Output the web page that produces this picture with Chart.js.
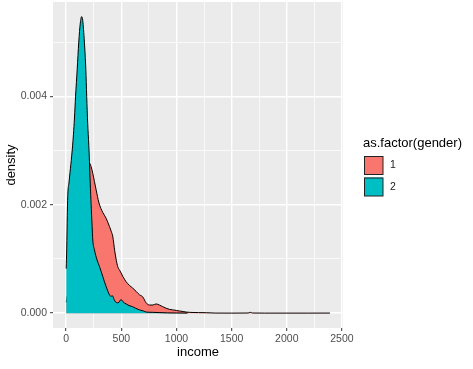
<!DOCTYPE html>
<html>
<head>
<meta charset="utf-8">
<script src="https://cdn.jsdelivr.net/npm/chart.js@4.4.0/dist/chart.umd.min.js"></script>
<style>
  html, body { margin: 0; padding: 0; background: #ffffff; }
  #wrap { width: 473px; height: 369px; }
</style>
</head>
<body>
<div id="wrap"><canvas id="graficoDensidade" width="473" height="369"></canvas></div>
<script>
// Dados (renda x densidade) para cada gênero
const generos = ["1", "2"];
const cores = ["#F8766D", "#00BFC4"];

const rendaGenero1 = [0, 25, 50, 80, 110, 140, 170, 195, 211, 226, 241, 256, 272, 295, 315, 331, 362, 392, 410, 422,
    440, 455, 467, 485, 498, 513, 543, 575, 604, 635, 664, 694, 725, 755, 785, 815, 845, 875, 906, 936,
    966, 1000, 1027, 1060, 1087, 1150, 1200, 1270, 1350, 1500, 1650, 1670, 1690, 1800, 2000, 2200, 2391];
const densidadeGenero1 = [0.0002, 0.0005, 0.0009, 0.0014, 0.0019, 0.0023, 0.0026, 0.00272, 0.00277, 0.0027, 0.00258, 0.00243, 0.00227, 0.00205, 0.00193, 0.00186, 0.00175, 0.0016, 0.0015, 0.00142,
    0.00115, 0.00097, 0.00086, 0.00079, 0.00074, 0.00068, 0.00058, 0.00051, 0.00046, 0.0004, 0.00034, 0.0003, 0.00019, 0.00015, 0.00015, 0.00017, 0.00015, 0.00012, 0.00009, 0.00007,
    0.00006, 0.00005, 0.00004, 0.00003, 0.00002, 0.000012, 0.00001, 0.000008, 0.000002, 0.000001, 0.000003, 0.000015, 0.000003, 0.000001, 0.000001, 0.000001, 0.000002];

const rendaGenero2 = [0, 5, 10, 15, 25, 35, 50, 66, 75, 85, 100, 114, 128, 140, 150, 165, 178, 186, 195, 205,
    211, 218, 226, 235, 241, 256, 280, 302, 331, 362, 392, 405, 419, 435, 446, 470, 498, 515, 543, 570,
    600, 630, 664, 700, 725, 780, 850, 920, 1000, 1100];
const densidadeGenero2 = [0.00082, 0.0012, 0.0018, 0.0022, 0.0024, 0.0026, 0.0029, 0.0033, 0.0036, 0.004, 0.0045, 0.005, 0.00535, 0.00547, 0.0054, 0.005, 0.0045, 0.004, 0.0035, 0.0031,
    0.0028, 0.0024, 0.002, 0.0016, 0.00135, 0.00117, 0.00098, 0.00086, 0.00068, 0.00049, 0.00034, 0.00031, 0.00032, 0.00025, 0.00021, 0.00019, 0.00025, 0.00021, 0.00017, 0.00014,
    0.00012, 0.00009, 0.00006, 0.00004, 0.00002, 0.000015, 0.00001, 0.000005, 0.000003, 0.000001];

// Marcas dos eixos (principais com rótulo, secundárias só com grade)
const xTicksPrincipais = [0, 500, 1000, 1500, 2000, 2500];
const xTicksSecundarios = [250, 750, 1250, 1750, 2250];
const yTicksPrincipais = [0, 0.002, 0.004];
const yTicksSecundarios = [0.001, 0.003, 0.005];

function juntarPontos(xs, ys) {
    return xs.map((x, i) => ({ x: x, y: ys[i] }));
}

function ehPrincipal(lista, valor) {
    return lista.some(v => Math.abs(v - valor) < 1e-9);
}

// Fundo cinza do painel (estilo ggplot)
const fundoPainel = {
    id: "fundoPainel",
    beforeDraw(chart) {
        const { ctx, chartArea } = chart;
        ctx.save();
        ctx.fillStyle = "#EBEBEB";
        ctx.fillRect(chartArea.left, chartArea.top, chartArea.right - chartArea.left, chartArea.bottom - chartArea.top);
        ctx.restore();
    }
};

// Legenda desenhada à mão à direita do painel
const legendaLateral = {
    id: "legendaLateral",
    afterDraw(chart) {
        const ctx = chart.ctx;
        ctx.save();
        ctx.fillStyle = "#000000";
        ctx.font = "13px 'Liberation Sans', Arial, sans-serif";
        ctx.textBaseline = "middle";
        ctx.textAlign = "left";
        ctx.fillText("as.factor(gender)", 363, 143);

        generos.forEach((g, i) => {
            const y = 156 + i * 21.5;
            ctx.fillStyle = cores[i];
            ctx.fillRect(364, y, 19, 18.5);
            ctx.strokeStyle = "#222222";
            ctx.lineWidth = 1;
            ctx.strokeRect(364.5, y + 0.5, 18.5, 18);
            ctx.fillStyle = "#1A1A1A";
            ctx.font = "10.5px 'Liberation Sans', Arial, sans-serif";
            ctx.fillText(g, 390, y + 9.5);
        });
        ctx.restore();
    }
};

function estiloGrade(principais) {
    return {
        color: "#FFFFFF",
        lineWidth: ctx => ehPrincipal(principais, ctx.tick.value) ? 1.4 : 0.7,
        tickColor: ctx => ehPrincipal(principais, ctx.tick.value) ? "#333333" : "rgba(0,0,0,0)",
        tickWidth: 1,
        tickLength: 3,
        drawOnChartArea: true
    };
}

const ctx = document.getElementById("graficoDensidade").getContext("2d");

new Chart(ctx, {
    type: "line",
    data: {
        datasets: [
            {
                label: generos[0],
                data: juntarPontos(rendaGenero1, densidadeGenero1),
                backgroundColor: cores[0],
                borderColor: "#000000",
                borderWidth: 1,
                pointRadius: 0,
                fill: "origin",
                cubicInterpolationMode: "monotone",
                order: 1
            },
            {
                label: generos[1],
                data: juntarPontos(rendaGenero2, densidadeGenero2),
                backgroundColor: cores[1],
                borderColor: "#000000",
                borderWidth: 1,
                pointRadius: 0,
                fill: "origin",
                cubicInterpolationMode: "monotone",
                order: 0
            }
        ]
    },
    options: {
        responsive: false,
        animation: false,
        layout: { padding: { top: 2, right: 130, left: 0, bottom: 0 } },
        plugins: {
            legend: { display: false },
            tooltip: { enabled: false }
        },
        scales: {
            x: {
                type: "linear",
                min: -119.5,
                max: 2509.5,
                border: { display: false },
                grid: estiloGrade(xTicksPrincipais),
                afterBuildTicks: scale => {
                    scale.ticks = xTicksPrincipais.concat(xTicksSecundarios).map(v => ({ value: v }));
                },
                afterFit: scale => {
                    scale.height = 41;
                    scale.paddingLeft = 0;
                    scale.paddingRight = 0;
                },
                ticks: {
                    autoSkip: false,
                    maxRotation: 0,
                    padding: 2,
                    color: "#4D4D4D",
                    font: { family: "'Liberation Sans', Arial, sans-serif", size: 10.5 },
                    callback: v => ehPrincipal(xTicksPrincipais, v) ? String(v) : ""
                },
                title: {
                    display: true,
                    text: "income",
                    color: "#000000",
                    font: { family: "'Liberation Sans', Arial, sans-serif", size: 13 },
                    padding: { top: 0, bottom: 9 }
                }
            },
            y: {
                type: "linear",
                min: -0.000274,
                max: 0.00574,
                border: { display: false },
                grid: estiloGrade(yTicksPrincipais),
                afterBuildTicks: scale => {
                    scale.ticks = yTicksPrincipais.concat(yTicksSecundarios).map(v => ({ value: v }));
                },
                afterFit: scale => {
                    scale.width = 53;
                    scale.paddingTop = 0;
                    scale.paddingBottom = 0;
                },
                ticks: {
                    autoSkip: false,
                    padding: 3,
                    color: "#4D4D4D",
                    font: { family: "'Liberation Sans', Arial, sans-serif", size: 10.5 },
                    callback: v => ehPrincipal(yTicksPrincipais, v) ? v.toFixed(3) : ""
                },
                title: {
                    display: true,
                    text: "density",
                    color: "#000000",
                    font: { family: "'Liberation Sans', Arial, sans-serif", size: 13 },
                    padding: { top: 4, bottom: 0 }
                }
            }
        }
    },
    plugins: [fundoPainel, legendaLateral]
});
</script>
</body>
</html>
